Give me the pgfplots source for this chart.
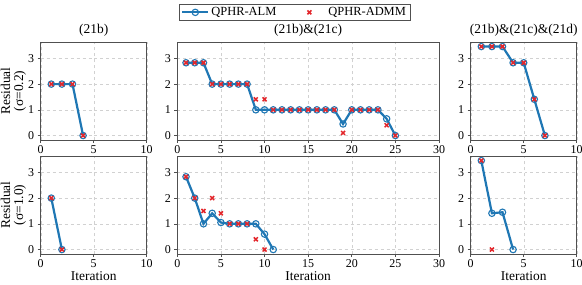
\documentclass[border=0pt]{standalone}
\usepackage{fontspec}
\setmainfont{Liberation Serif}
\usepackage{pgfplots}
\pgfplotsset{compat=1.18}
\definecolor{almc}{HTML}{1F77B4}
\definecolor{admmc}{HTML}{E3262B}
\definecolor{frame}{HTML}{505050}
\pgfplotsset{
  base/.style={scale only axis, height=98bp, ymin=-0.173, ymax=3.637, ytick={0,1,2,3}, xmin=0,
    grid=major, grid style={dashed, line width=0.4pt, black!18},
    axis line style={frame, line width=0.7pt},
    tick align=outside, major tick length=3bp, tick style={frame, line width=0.6pt},
    xtick pos=bottom, ytick pos=left,
    ticklabel style={font=\fontsize{12}{13}\selectfont},
    xticklabel style={yshift=1bp},
    /pgf/number format/assume math mode=true,
    label style={font=\fontsize{13.5}{13}\selectfont},
    xlabel style={yshift=3bp},
    ylabel style={align=center, at={(axis description cs:-0.257,0.5)}, anchor=center},
    title style={font=\fontsize{13.5}{14}\selectfont, yshift=-4bp},
    clip=false},
  narrow/.style={base, width=106bp, xmax=10, xtick={0,5,10}},
  wide/.style={base, width=261.7bp, xmax=30, xtick={0,5,...,30}},
  alm/.style={color=almc, line width=2.2bp, mark=o, mark size=3.2bp, mark options={line width=1.1bp, fill=none, solid},
    legend image code/.code={\path[draw=none,fill=none] (0bp,-4bp) rectangle (26bp,4bp);
      \draw[mark repeat=2,mark phase=2,##1] plot coordinates {(0bp,0bp) (13bp,0bp) (26bp,0bp)};}},
  admm/.style={only marks, color=admmc, mark=x, mark size=2.8bp, mark options={line width=1.5bp},
    legend image code/.code={\path[draw=none,fill=none] (0bp,-4bp) rectangle (26bp,4bp);
      \draw[##1] plot coordinates {(13bp,0bp)};}},
}
\begin{document}
\begin{tikzpicture}
\path[use as bounding box] (0,0) rectangle (582bp,285bp);
% ---------- top row ----------
\begin{axis}[narrow, at={(40.7bp,145bp)}, anchor=south west, title={(21b)},
  ylabel={Residual\\(σ=0.2)}]
\addplot[alm] coordinates {(1,2) (2,2) (3,2) (4,0)};
\addplot[admm] coordinates {(1,2) (2,2) (3,2) (4,0)};
\end{axis}
\begin{axis}[wide, at={(177.3bp,145bp)}, anchor=south west, title={(21b)\&(21c)},
  legend style={at={(0.448,1.214)}, anchor=south, legend columns=2, draw=frame, line width=0.6pt,
    font=\fontsize{12.5}{13}\selectfont, inner xsep=2bp, inner ysep=1.5bp},
  legend cell align=left]
\addplot[alm] coordinates {(1,2.83) (2,2.83) (3,2.83) (4,2) (5,2) (6,2) (7,2) (8,2) (9,1) (10,1)
  (11,1) (12,1) (13,1) (14,1) (15,1) (16,1) (17,1) (18,1) (19,0.45) (20,1) (21,1) (22,1) (23,1) (24,0.65) (25,0)};
\addlegendentry{QPHR-ALM\rule{18bp}{0pt}}
\addplot[admm] coordinates {(1,2.83) (2,2.83) (3,2.83) (4,2) (5,2) (6,2) (7,2) (8,2) (9,1.41) (10,1.41)
  (11,1) (12,1) (13,1) (14,1) (15,1) (16,1) (17,1) (18,1) (19,0.1) (20,1) (21,1) (22,1) (23,1) (24,0.4) (25,0)};
\addlegendentry{\rule{4bp}{0pt}QPHR-ADMM}
\end{axis}
\begin{axis}[narrow, at={(470.7bp,145bp)}, anchor=south west, title={(21b)\&(21c)\&(21d)}]
\addplot[alm] coordinates {(1,3.46) (2,3.46) (3,3.46) (4,2.83) (5,2.83) (6,1.41) (7,0)};
\addplot[admm] coordinates {(1,3.46) (2,3.46) (3,3.46) (4,2.83) (5,2.83) (6,1.41) (7,0)};
\end{axis}
% ---------- bottom row ----------
\begin{axis}[narrow, at={(40.7bp,31bp)}, anchor=south west, xlabel={Iteration},
  ylabel={Residual\\(σ=1.0)}]
\addplot[alm] coordinates {(1,2) (2,0)};
\addplot[admm] coordinates {(1,2) (2,0)};
\end{axis}
\begin{axis}[wide, at={(177.3bp,31bp)}, anchor=south west, xlabel={Iteration}]
\addplot[alm] coordinates {(1,2.83) (2,2) (3,1.0) (4,1.41) (5,1.05) (6,1) (7,1) (8,1) (9,1) (10,0.6) (11,0)};
\addplot[admm] coordinates {(1,2.83) (2,2) (3,1.5) (4,2) (5,1.41) (6,1) (7,1) (8,1) (9,0.4) (10,0)};
\end{axis}
\begin{axis}[narrow, at={(470.7bp,31bp)}, anchor=south west, xlabel={Iteration}]
\addplot[alm] coordinates {(1,3.46) (2,1.41) (3,1.45) (4,0)};
\addplot[admm] coordinates {(1,3.46) (2,0)};
\end{axis}
\end{tikzpicture}
\end{document}
